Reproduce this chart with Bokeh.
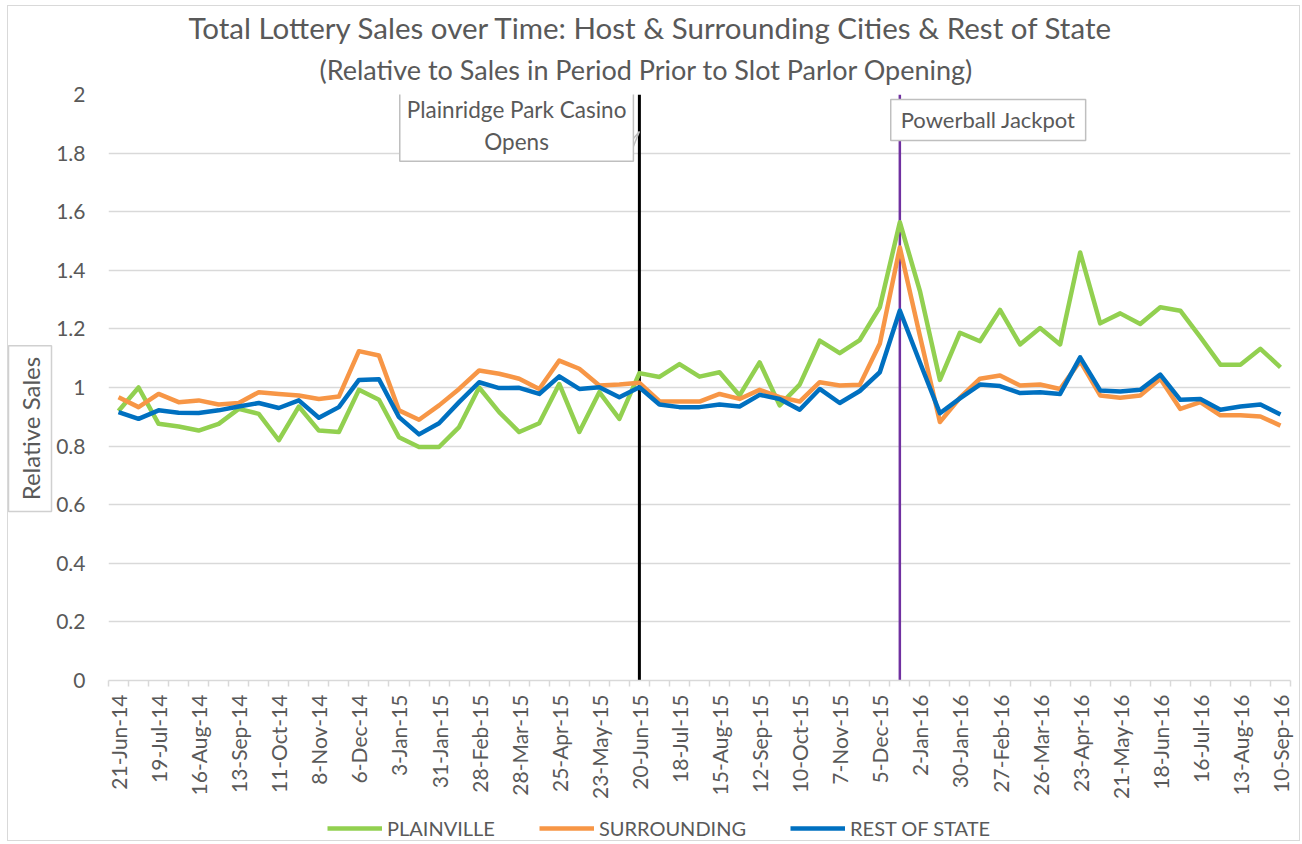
import numpy as np
from bokeh.plotting import figure
from bokeh.layouts import column
from bokeh.models import FixedTicker, Span, Label, Legend, LegendItem, Range1d, Title
from bokeh.embed import file_html
from bokeh.resources import INLINE

# ---------------- data ----------------
tick_labels = ["21-Jun-14", "19-Jul-14", "16-Aug-14", "13-Sep-14", "11-Oct-14", "8-Nov-14",
               "6-Dec-14", "3-Jan-15", "31-Jan-15", "28-Feb-15", "28-Mar-15", "25-Apr-15",
               "23-May-15", "20-Jun-15", "18-Jul-15", "15-Aug-15", "12-Sep-15", "10-Oct-15",
               "7-Nov-15", "5-Dec-15", "2-Jan-16", "30-Jan-16", "27-Feb-16", "26-Mar-16",
               "23-Apr-16", "21-May-16", "18-Jun-16", "16-Jul-16", "13-Aug-16", "10-Sep-16"]

plainville = [0.92, 1.00, 0.876, 0.867, 0.853, 0.876, 0.927, 0.91, 0.82, 0.935,
              0.853, 0.848, 0.992, 0.958, 0.83, 0.797, 0.797, 0.865, 1.0, 0.916,
              0.848, 0.878, 1.012, 0.848, 0.984, 0.893, 1.049, 1.036, 1.08, 1.037,
              1.052, 0.973, 1.086, 0.939, 1.01, 1.16, 1.117, 1.162, 1.274, 1.564,
              1.33, 1.026, 1.187, 1.158, 1.265, 1.147, 1.203, 1.147, 1.461, 1.219,
              1.253, 1.217, 1.274, 1.262, 1.172, 1.078, 1.078, 1.132, 1.069]

surrounding = [0.967, 0.933, 0.978, 0.95, 0.956, 0.942, 0.947, 0.984, 0.978, 0.973,
               0.961, 0.969, 1.124, 1.109, 0.922, 0.89, 0.939, 0.995, 1.058, 1.047,
               1.03, 0.995, 1.092, 1.064, 1.007, 1.01, 1.016, 0.953, 0.952, 0.952,
               0.978, 0.961, 0.992, 0.967, 0.952, 1.018, 1.007, 1.009, 1.149, 1.478,
               1.177, 0.882, 0.965, 1.03, 1.041, 1.007, 1.01, 0.995, 1.09, 0.973,
               0.965, 0.973, 1.03, 0.927, 0.95, 0.905, 0.905, 0.901, 0.87]

rest_of_state = [0.916, 0.893, 0.922, 0.914, 0.913, 0.922, 0.935, 0.947, 0.93, 0.956,
                 0.897, 0.933, 1.026, 1.028, 0.899, 0.84, 0.878, 0.95, 1.018, 0.998,
                 0.999, 0.978, 1.038, 0.995, 1.001, 0.967, 1.001, 0.942, 0.933, 0.933,
                 0.942, 0.935, 0.975, 0.961, 0.924, 0.995, 0.947, 0.988, 1.052, 1.263,
                 1.086, 0.912, 0.963, 1.01, 1.005, 0.981, 0.984, 0.978, 1.103, 0.99,
                 0.986, 0.992, 1.044, 0.958, 0.961, 0.924, 0.935, 0.942, 0.908]

series_names = ["PLAINVILLE", "SURROUNDING", "REST OF STATE"]
series_colors = ["#92D050", "#F79646", "#0070C0"]

y_ticks = [0, 0.2, 0.4, 0.6, 0.8, 1, 1.2, 1.4, 1.6, 1.8, 2]
y_tick_text = ["0", "0.2", "0.4", "0.6", "0.8", "1", "1.2", "1.4", "1.6", "1.8", "2"]

casino_open_idx = 26      # 20-Jun-15
powerball_idx = 39        # Powerball jackpot period

x = list(range(len(plainville)))
all_series = [plainville, surrounding, rest_of_state]

# ---------------- main figure ----------------
FONT = "Lato"
GRAY = "#595959"
GRID = "#d9d9d9"
W = 1291
NB = "\u00a0"

p = figure(width=W, height=796, output_backend="svg", toolbar_location=None,
           x_range=Range1d(-0.5, len(x) - 0.5), y_range=Range1d(0, 2),
           min_border_left=100, min_border_right=9, min_border_top=88,
           min_border_bottom=121)
p.title = None
p.outline_line_color = None

# y axis
p.yaxis.ticker = FixedTicker(ticks=y_ticks)
p.yaxis.major_label_overrides = {float(t): s for t, s in zip(y_ticks, y_tick_text)}
p.yaxis.axis_line_color = None
p.yaxis.major_tick_line_color = None
p.yaxis.major_tick_out = 0
p.yaxis.major_tick_in = 0
p.yaxis.minor_tick_line_color = None
p.yaxis.minor_tick_out = 0
p.yaxis.major_label_text_font = FONT
p.yaxis.major_label_text_font_size = "21px"
p.yaxis.major_label_text_color = GRAY
p.yaxis.major_label_standoff = 23

# x axis
major = list(range(0, len(x), 2))
p.xaxis.ticker = FixedTicker(ticks=major, minor_ticks=[i - 0.5 for i in range(len(x) + 1)])
p.xaxis.major_label_overrides = {m: lbl for m, lbl in zip(major, tick_labels)}
p.xaxis.major_label_orientation = np.pi / 2
p.xaxis.major_tick_in = 0
p.xaxis.major_tick_out = 0
p.xaxis.minor_tick_in = 0
p.xaxis.minor_tick_out = 6
p.xaxis.minor_tick_line_color = GRID
p.xaxis.minor_tick_line_width = 1.5
p.xaxis.axis_line_color = GRID
p.xaxis.axis_line_width = 1.5
p.xaxis.major_label_text_font = FONT
p.xaxis.major_label_text_font_size = "21px"
p.xaxis.major_label_text_color = GRAY
p.xaxis.major_label_standoff = 8

# grid
p.xgrid.visible = False
p.ygrid.ticker = FixedTicker(ticks=y_ticks[1:])
p.ygrid.grid_line_color = GRID
p.ygrid.grid_line_width = 1.5

# event lines (under everything else)
p.add_layout(Span(location=casino_open_idx, dimension="height", line_color="black",
                  line_width=3, level="underlay"))
p.add_layout(Span(location=powerball_idx, dimension="height", line_color="#7030A0",
                  line_width=2.5, level="underlay"))

# series
for vals, col in zip(all_series, series_colors):
    p.line(x, vals, line_color=col, line_width=4.5, line_join="round")

# titles (subtitle first = nearest the frame)
p.add_layout(Title(text="(Relative to Sales in Period Prior to Slot Parlor Opening)",
                   text_font=FONT, text_font_size="27px", text_color=GRAY,
                   text_font_style="normal", align="left", offset=211,
                   vertical_align="top", standoff=13), "above")
p.add_layout(Title(text="Total Lottery Sales over Time: Host & Surrounding Cities & Rest of State",
                   text_font=FONT, text_font_size="29.5px", text_color=GRAY,
                   text_font_style="normal", align="left", offset=80,
                   vertical_align="top", standoff=0), "above")

# y axis title (boxed)
p.add_layout(Title(text=NB + "Relative Sales" + NB, text_font=FONT, text_font_size="24px",
                   text_color=GRAY, text_font_style="normal", align="left", offset=169,
                   vertical_align="bottom", standoff=4,
                   background_fill_color="white", border_line_color="#d0d0d0",
                   border_line_width=1.5, padding=(5, 7)), "left")

# callout tail pointing at the casino-opening line
p.patch([casino_open_idx - 0.36, casino_open_idx, casino_open_idx - 0.36],
        [1.845, 1.874, 1.812], fill_color="white", line_color="#bfbfbf", line_width=1.5)

# callouts
p.add_layout(Label(x=19.87, y=1.894, text="Plainridge Park Casino\nOpens",
                   text_font=FONT, text_font_size="22.5px", text_color=GRAY,
                   text_align="center", text_baseline="middle",
                   background_fill_color="white", border_line_color="#bfbfbf",
                   border_line_width=1.5, padding=(7, 6)))
p.add_layout(Label(x=43.41, y=1.913, text="Powerball Jackpot",
                   text_font=FONT, text_font_size="22px", text_color=GRAY,
                   text_align="center", text_baseline="middle",
                   background_fill_color="white", border_line_color="#bfbfbf",
                   border_line_width=1.5, padding=(10, 7)))

# ---------------- legend strip ----------------
lf = figure(width=W, height=38, output_backend="svg", toolbar_location=None,
            x_range=Range1d(1000, 1001), y_range=Range1d(1000, 1001),
            x_axis_location=None, y_axis_location=None, min_border=0)
lf.title = None
lf.outline_line_color = None
lf.grid.visible = False
items = []
for name, vals, col in zip(series_names, all_series, series_colors):
    r = lf.line(x, vals, line_color=col, line_width=4.5)
    items.append(LegendItem(label=name, renderers=[r]))
legend = Legend(items=items, orientation="horizontal", location=(219, 0),
                background_fill_alpha=0, border_line_color=None,
                padding=0, margin=0, spacing=44, glyph_width=55, glyph_height=20,
                label_standoff=5, label_text_font=FONT, label_text_font_size="20px",
                label_text_color=GRAY)
lf.add_layout(legend, "center")

layout = column(p, lf, spacing=0)
layout.styles = {"border": "1px solid #d9d9d9", "margin": "5px 0px 0px 7px"}

open("out.html", "w").write(file_html(layout, INLINE))
